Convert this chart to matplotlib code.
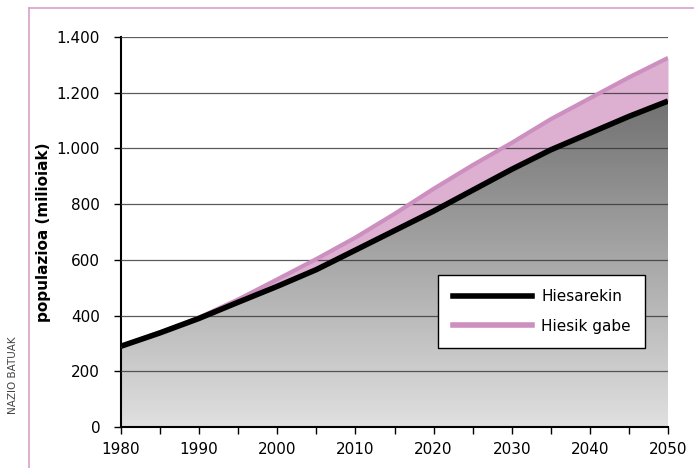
import numpy as np
import matplotlib.pyplot as plt
from matplotlib.colors import LinearSegmentedColormap
from matplotlib.lines import Line2D

years = [1980, 1985, 1990, 1995, 2000, 2005, 2010, 2015, 2020, 2025, 2030, 2035, 2040, 2045, 2050]
with_aids = [290, 338, 390, 448, 505, 565, 635, 705, 775, 850, 925, 995, 1055, 1115, 1170]
without_aids = [290, 340, 393, 458, 530, 603, 680, 765, 855, 940, 1020, 1105, 1180, 1255, 1325]
yticks = [0, 200, 400, 600, 800, 1000, 1200, 1400]
ytick_labels = ['0', '200', '400', '600', '800', '1.000', '1.200', '1.400']
xticks = [1980, 1990, 2000, 2010, 2020, 2030, 2040, 2050]

pink_line = '#cc8fbf'
pink_fill = '#ddb0d2'

fig = plt.figure(figsize=(6.94, 4.68), dpi=100)
ax = fig.add_axes([121/694, 41/468, 547/694, 390/468])

# pink band between the two series
ax.fill_between(years, with_aids, without_aids, color=pink_fill, lw=0, zorder=2)
ax.plot(years, without_aids, color=pink_line, lw=3, zorder=3, solid_capstyle='butt')

# grey gradient under the black line
poly = ax.fill_between(years, 0, with_aids, color='none', lw=0)
cmap = LinearSegmentedColormap.from_list('g', ['#e0e0e0', '#6a6a6a'])
grad = np.linspace(0, 1, 256).reshape(-1, 1)
im = ax.imshow(grad, cmap=cmap, origin='lower', aspect='auto',
               extent=[1980, 2050, 0, 1250], zorder=2.5)
im.set_clip_path(poly.get_paths()[0], transform=ax.transData)

ax.plot(years, with_aids, color='black', lw=4, zorder=4, solid_capstyle='butt')

for y in yticks[1:]:
    ax.axhline(y, color='#333333', lw=0.9, zorder=2.7, alpha=0.8)

ax.set_xlim(1980, 2050)
ax.set_ylim(0, 1400)
ax.set_xticks(xticks)
ax.set_xticks(range(1985, 2050, 10), minor=True)
ax.set_yticks(yticks)
ax.set_yticklabels(ytick_labels)
ax.tick_params(axis='both', labelsize=11, direction='out', length=5, width=1, colors='black')
ax.tick_params(axis='x', which='minor', direction='out', length=5, width=1)
ax.tick_params(axis='x', pad=6)
ax.tick_params(axis='y', pad=10)
for s in ['top', 'right']:
    ax.spines[s].set_visible(False)
for s in ['left', 'bottom']:
    ax.spines[s].set_linewidth(1.5)
ax.set_ylabel('populazioa (milioiak)', fontsize=11, fontweight='bold', labelpad=4)

handles = [Line2D([], [], color='black', lw=4), Line2D([], [], color=pink_line, lw=4)]
leg = ax.legend(handles, ['Hiesarekin', 'Hiesik gabe'], loc='center',
                bbox_to_anchor=(0.769, 0.296),
                fontsize=11, fancybox=False, framealpha=1, edgecolor='black',
                handlelength=5.2, handletextpad=0.6, labelspacing=0.95, borderpad=0.95)
leg.get_frame().set_linewidth(1)
leg.set_zorder(10)

# decorative frame
fig.add_artist(Line2D([29/694, 29/694], [0, 1 - 8/468], color='#d9a0cc', lw=1.2))
fig.add_artist(Line2D([29/694, 1], [1 - 8/468, 1 - 8/468], color='#d9a0cc', lw=1.2))
fig.text(13/694, 1 - 375/468, 'NAZIO BATUAK', rotation=90, fontsize=7.5,
         color='#444444', ha='center', va='center')

fig.savefig('out.png', dpi=100)
